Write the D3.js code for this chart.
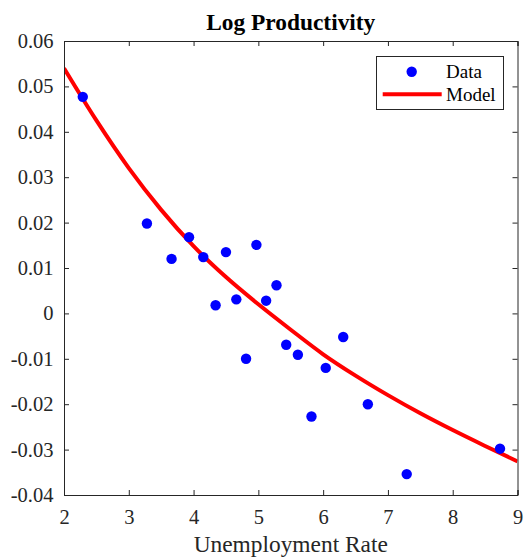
<!DOCTYPE html>
<html><head><meta charset="utf-8">
<script src="https://cdn.jsdelivr.net/npm/d3@7"></script>
<style>body{margin:0;background:#fff;} svg{display:block;}</style>
</head><body>
<script>
const dataX = [2.29, 3.28, 3.66, 3.93, 4.15, 4.34, 4.50, 4.66, 4.81, 4.97, 5.12, 5.28, 5.43, 5.61, 5.82, 6.04, 6.31, 6.69, 7.29, 8.73];
const dataY = [0.0477, 0.0198, 0.0120, 0.0168, 0.0124, 0.0018, 0.0135, 0.0031, -0.0100, 0.0151, 0.0028, 0.0062, -0.0069, -0.0091, -0.0227, -0.0120, -0.0052, -0.0200, -0.0354, -0.0298];
const modelX = [2.0, 2.5, 3.0, 3.5, 4.0, 4.5, 5.0, 5.5, 6.0, 6.5, 7.0, 7.5, 8.0, 8.5, 9.0];
const modelY = [0.0540, 0.0425, 0.0320, 0.0228, 0.0148, 0.0080, 0.0020, -0.0036, -0.0090, -0.0137, -0.0180, -0.0220, -0.0257, -0.0292, -0.0326];
const xTicks = [2, 3, 4, 5, 6, 7, 8, 9];
const yTicks = [-0.04, -0.03, -0.02, -0.01, 0, 0.01, 0.02, 0.03, 0.04, 0.05, 0.06];

const W = 524, H = 557;
const L = 64, R = 517.5, T = 41, B = 495;
const axisColor = "#262626";
const font = "'Liberation Serif','Times New Roman',serif";

const svg = d3.select("body").append("svg").attr("width", W).attr("height", H);
const x = d3.scaleLinear().domain([2, 9]).range([L, R]);
const y = d3.scaleLinear().domain([-0.04, 0.06]).range([B, T]);

svg.append("clipPath").attr("id", "c").append("rect")
  .attr("x", L).attr("y", T).attr("width", R - L).attr("height", B - T);

// model line
const line = d3.line().x(d => x(d[0])).y(d => y(d[1])).curve(d3.curveMonotoneX);
svg.append("path").datum(modelX.map((v, i) => [v, modelY[i]]))
  .attr("clip-path", "url(#c)")
  .attr("d", line).attr("fill", "none").attr("stroke", "#ff0000").attr("stroke-width", 4);

// data points
svg.append("g").selectAll("circle").data(dataX.map((v, i) => [v, dataY[i]]))
  .join("circle").attr("cx", d => x(d[0])).attr("cy", d => y(d[1])).attr("r", 5.2).attr("fill", "#0000ff");

// axes
const fmt = d => d === 0 ? "0" : d3.format(".2f")(d).replace("\u2212", "-");
const gxB = svg.append("g").attr("transform", `translate(0,${B})`)
  .call(d3.axisBottom(x).tickValues(xTicks).tickSize(-5).tickPadding(12).tickFormat(d3.format("d")));
const gxT = svg.append("g").attr("transform", `translate(0,${T})`)
  .call(d3.axisTop(x).tickValues(xTicks).tickSize(-5).tickFormat(""));
const gyL = svg.append("g").attr("transform", `translate(${L},0)`)
  .call(d3.axisLeft(y).tickValues(yTicks).tickSize(-5).tickPadding(10.5).tickFormat(fmt));
const gyR = svg.append("g").attr("transform", `translate(${R},0)`)
  .call(d3.axisRight(y).tickValues(yTicks).tickSize(-5).tickFormat(""));
[gxB, gxT, gyL, gyR].forEach(g => {
  g.selectAll("path.domain").attr("stroke", axisColor).attr("stroke-width", 1);
  g.selectAll(".tick line").attr("stroke", axisColor);
  g.selectAll("text").attr("fill", axisColor).style("font-family", font).style("font-size", "20.5px");
});
gxB.selectAll("text").attr("y", 29).attr("dy", null);

// title
svg.append("text").attr("x", (L + R) / 2).attr("y", 30).attr("text-anchor", "middle")
  .style("font-family", font).style("font-size", "23.4px").style("font-weight", "bold").attr("fill", "#000")
  .text("Log Productivity");
// x label
svg.append("text").attr("x", (L + R) / 2).attr("y", 552).attr("text-anchor", "middle")
  .style("font-family", font).style("font-size", "23.4px").attr("fill", axisColor)
  .text("Unemployment Rate");

// legend
const lg = svg.append("g");
lg.append("rect").attr("x", 376.5).attr("y", 56.5).attr("width", 127).attr("height", 53)
  .attr("fill", "#fff").attr("stroke", axisColor).attr("stroke-width", 1);
lg.append("circle").attr("cx", 411.7).attr("cy", 71.7).attr("r", 5.2).attr("fill", "#0000ff");
lg.append("line").attr("x1", 382.7).attr("x2", 441.7).attr("y1", 94.3).attr("y2", 94.3)
  .attr("stroke", "#ff0000").attr("stroke-width", 4);
lg.append("text").attr("x", 446).attr("y", 78).style("font-family", font).style("font-size", "19px").attr("fill", "#000").text("Data");
lg.append("text").attr("x", 446).attr("y", 101).style("font-family", font).style("font-size", "19px").attr("fill", "#000").text("Model");
</script>
</body></html>
